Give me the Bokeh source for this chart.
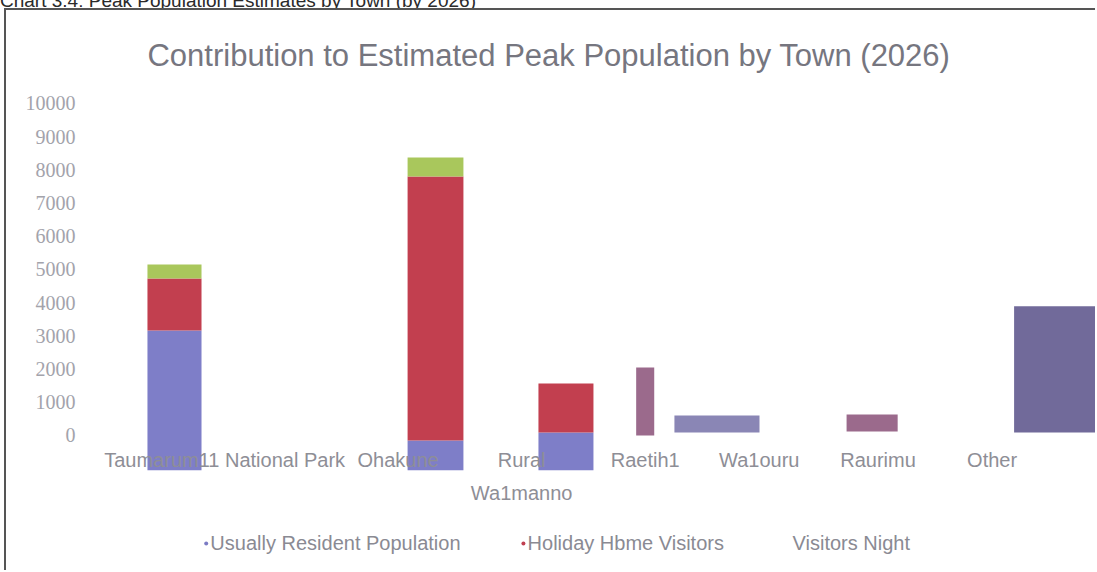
from bokeh.plotting import figure
from bokeh.layouts import column
from bokeh.models import Range1d, FixedTicker, Div
from bokeh.core.properties import value
from bokeh.embed import file_html
from bokeh.resources import INLINE

# ---- data ----
stack_towns = ["Taumarunui", "Ohakune", "Rural Waimarino"]
stack_pos = [0.118, 2.315, 3.413]
stack_width = [0.455, 0.47, 0.463]
stack_base = [-1050, -1050, -1050]
resident = [4210, 900, 1140]
holiday = [1570, 7950, 1476]
visitors_night = [420, 570, 0]

single_towns = ["Raetihi", "Waiouru", "Raurimu", "Other"]
single_pos = [4.08, 4.684, 5.99, 7.55]
single_width = [0.152, 0.716, 0.43, 0.73]
single_base = [0, 90, 120, 90]
single_value = [2050, 510, 510, 3800]
single_colors = ["#9b6a8c", "#8a86b5", "#9b6a8c", "#716a9a"]

tick_labels = ["Taumarum11 National Park", "Ohakune", "Rural", "Raetih1", "Wa1ouru", "Raurimu", "Other"]
tick_label_pos = [0.54, 2.0, 3.04, 4.08, 5.04, 6.04, 7.0]
second_line = ["Wa1manno"]
second_line_pos = [3.04]

y_ticks = list(range(0, 10001, 1000))

caption = "Chart 3.4: Peak Population Estimates by Town (by 2026)"
title_text = "Contribution to Estimated Peak Population by Town (2026)"
legend_labels = ["Usually Resident Population", "Holiday Hbme Visitors", "Visitors Night"]
legend_pos = [0.42, 3.09, 5.32]
legend_bullet_colors = ["#7b7bc4", "#c04050", None]

# ---- caption strip (only its lower part is visible, as in the scan) ----
cap = Div(text='<div style="position:relative; top:-9px; left:0px; font-family:\'Liberation Sans\'; '
               'font-size:19px; line-height:19px; color:#2a2a2a; white-space:nowrap; margin:0; padding:0;">'
               + caption + '</div>',
          width=1097, height=8, height_policy="fixed", width_policy="fixed",
          styles={"overflow": "hidden", "margin": "0px", "padding": "0px"})

# ---- figure ----
p = figure(width=1091, height=562, output_backend="svg", toolbar_location=None,
           x_range=Range1d(-0.631, 7.887), y_range=Range1d(-4127, 12801),
           x_axis_location=None, min_border_left=79, min_border_right=0,
           min_border_top=0, min_border_bottom=0)
p.outline_line_color = None
p.xgrid.visible = False
p.ygrid.visible = False
p.background_fill_color = "white"
p.border_fill_color = "white"
p.styles = {"border-left": "2px solid #555555", "border-top": "2px solid #555555",
            "margin-left": "4px"}

ax = p.yaxis[0]
ax.ticker = FixedTicker(ticks=y_ticks)
ax.axis_line_color = None
ax.major_tick_line_color = None
ax.minor_tick_line_color = None
ax.major_label_standoff = 4
ax.major_label_text_font = "Liberation Serif"
ax.major_label_text_font_size = "20px"
ax.major_label_text_color = "#a3a3ab"

# stacked bars
b0 = list(stack_base)
b1 = [b + r for b, r in zip(b0, resident)]
b2 = [b + h for b, h in zip(b1, holiday)]
b3 = [b + v for b, v in zip(b2, visitors_night)]
p.vbar(x=stack_pos, width=stack_width, bottom=b0, top=b1, fill_color="#7e7ec8", line_color=None)
p.vbar(x=stack_pos, width=stack_width, bottom=b1, top=b2, fill_color="#c23f4f", line_color=None)
p.vbar(x=stack_pos, width=stack_width, bottom=b2, top=b3, fill_color="#a9c75c", line_color=None)

# single bars
s_top = [b + v for b, v in zip(single_base, single_value)]
p.vbar(x=single_pos, width=single_width, bottom=single_base, top=s_top,
       fill_color=single_colors, line_color=None)

# category labels
p.text(x=tick_label_pos, y=[-753] * len(tick_labels), text=tick_labels,
       text_font=value("Liberation Sans"), text_font_size="20px", text_color="#8e8e96",
       text_align="center", text_baseline="middle")
p.text(x=second_line_pos, y=[-1747], text=second_line,
       text_font=value("Liberation Sans"), text_font_size="20px", text_color="#8e8e96",
       text_align="center", text_baseline="middle")

# title
p.text(x=[3.27], y=[11446], text=[title_text], text_font=value("Liberation Sans"),
       text_font_size="31px", text_color="#76767f", text_align="center", text_baseline="middle")

# legend
p.text(x=legend_pos, y=[-3253] * 3, text=legend_labels, text_font=value("Liberation Sans"),
       text_font_size="20px", text_color="#8a8a93", text_align="left", text_baseline="middle")
bx = [x - 0.035 for x, c in zip(legend_pos, legend_bullet_colors) if c]
bc = [c for c in legend_bullet_colors if c]
p.scatter(x=bx, y=[-3253] * len(bx), size=4, fill_color=bc, line_color=None)

layout = column(cap, p, spacing=0)
open("out.html", "w").write(file_html(layout, INLINE))
